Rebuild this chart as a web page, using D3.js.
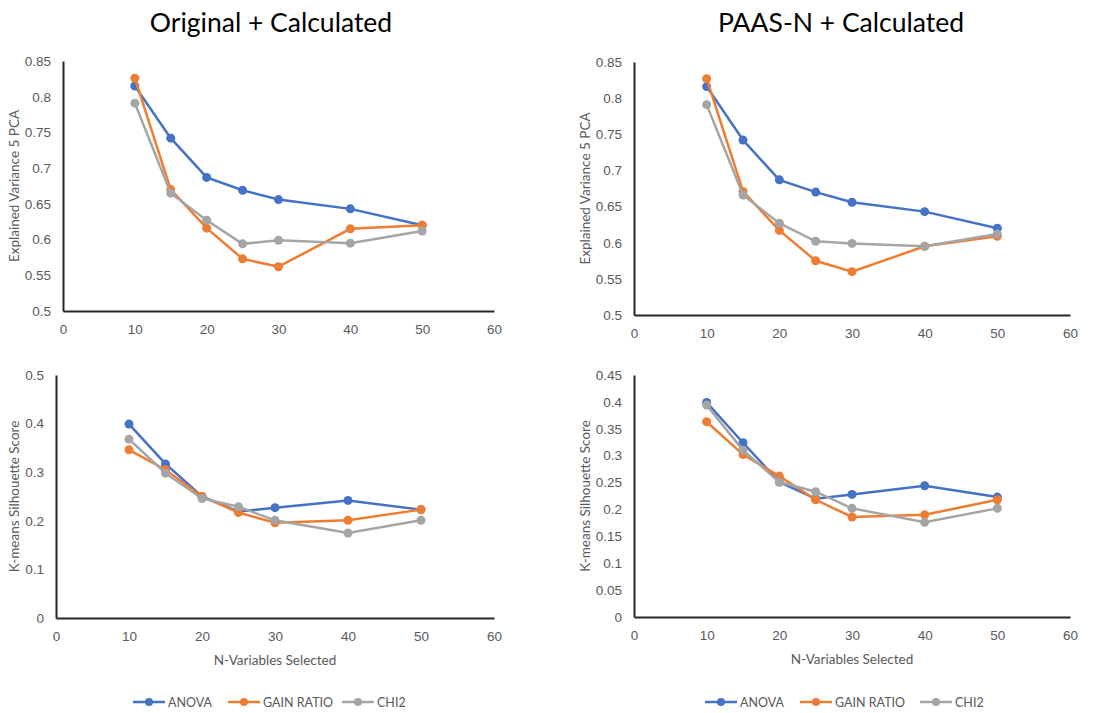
<!DOCTYPE html>
<html>
<head>
<meta charset="utf-8">
<script src="https://cdn.jsdelivr.net/npm/d3@7"></script>
<style>
  body { margin: 0; background: #fff; }
  svg { display: block; font-family: Lato, "Open Sans", sans-serif; }
</style>
</head>
<body>
<svg id="chart" width="1114" height="713"></svg>
<script>
// x values (number of variables selected)
const nVars = [10, 15, 20, 25, 30, 40, 50];
const seriesNames = ["ANOVA", "GAIN RATIO", "CHI2"];
const colors = ["#4472C4", "#ED7D31", "#A5A5A5"];

// Original + Calculated: explained variance
const origVarAnova = [0.815, 0.742, 0.687, 0.669, 0.656, 0.643, 0.620];
const origVarGain  = [0.826, 0.670, 0.616, 0.573, 0.562, 0.615, 0.620];
const origVarChi2  = [0.791, 0.665, 0.627, 0.594, 0.599, 0.595, 0.612];

// PAAS-N + Calculated: explained variance
const paasVarAnova = [0.816, 0.742, 0.687, 0.670, 0.656, 0.643, 0.620];
const paasVarGain  = [0.827, 0.671, 0.617, 0.575, 0.560, 0.595, 0.609];
const paasVarChi2  = [0.791, 0.666, 0.627, 0.602, 0.599, 0.595, 0.612];

// Original + Calculated: silhouette
const origSilAnova = [0.399, 0.317, 0.250, 0.219, 0.227, 0.242, 0.223];
const origSilGain  = [0.346, 0.305, 0.250, 0.217, 0.196, 0.201, 0.223];
const origSilChi2  = [0.368, 0.298, 0.246, 0.229, 0.201, 0.175, 0.201];

// PAAS-N + Calculated: silhouette
const paasSilAnova = [0.399, 0.324, 0.251, 0.220, 0.228, 0.244, 0.223];
const paasSilGain  = [0.363, 0.302, 0.262, 0.218, 0.186, 0.190, 0.218];
const paasSilChi2  = [0.394, 0.310, 0.251, 0.233, 0.202, 0.176, 0.202];

// tick labels
const xTicks = [0, 10, 20, 30, 40, 50, 60];
const varTicks = [0.5, 0.55, 0.6, 0.65, 0.7, 0.75, 0.8, 0.85];
const silTicksOrig = [0, 0.1, 0.2, 0.3, 0.4, 0.5];
const silTicksPaas = [0, 0.05, 0.1, 0.15, 0.2, 0.25, 0.3, 0.35, 0.4, 0.45];

const svg = d3.select("#chart");
const textColor = "#595959";

function drawPanel(box, yTicks, series, yTitle, xTitle) {
  const x = d3.scaleLinear().domain([0, 60]).range([box.x0, box.x1]);
  const y = d3.scaleLinear().domain([yTicks[0], yTicks[yTicks.length - 1]]).range([box.y1, box.y0]);
  const g = svg.append("g");

  // y axis
  const yAxis = g.append("g")
    .attr("transform", `translate(${box.x0},0)`)
    .call(d3.axisLeft(y).tickValues(yTicks).tickSize(0).tickPadding(12)
      .tickFormat(d => String(+d.toFixed(2))));
  yAxis.select(".domain").attr("stroke", "#262626").attr("stroke-width", 2);
  yAxis.selectAll("text").attr("fill", textColor).style("font-size", "13.5px");

  // x axis
  const xAxis = g.append("g")
    .attr("transform", `translate(0,${box.y1})`)
    .call(d3.axisBottom(x).tickValues(xTicks).tickSize(0).tickPadding(13));
  xAxis.select(".domain").attr("stroke", "#262626").attr("stroke-width", 2);
  xAxis.selectAll("text").attr("fill", textColor).style("font-size", "13.5px");

  // axis titles
  g.append("text")
    .attr("transform", `translate(${box.ytx},${(box.y0 + box.y1) / 2}) rotate(-90)`)
    .attr("text-anchor", "middle")
    .attr("dominant-baseline", "central")
    .attr("fill", textColor)
    .style("font-size", "13.5px")
    .text(yTitle);
  if (xTitle) {
    g.append("text")
      .attr("x", (box.x0 + box.x1) / 2)
      .attr("y", box.y1 + 47)
      .attr("text-anchor", "middle")
      .attr("fill", textColor)
      .style("font-size", "13.5px")
      .text(xTitle);
  }

  const line = d3.line().x((d, i) => x(nVars[i])).y(d => y(d));
  series.forEach((vals, s) => {
    g.append("path")
      .datum(vals)
      .attr("d", line)
      .attr("fill", "none")
      .attr("stroke", colors[s])
      .attr("stroke-width", 2.5);
    g.selectAll(null)
      .data(vals)
      .enter()
      .append("circle")
      .attr("cx", (d, i) => x(nVars[i]))
      .attr("cy", d => y(d))
      .attr("r", 4.5)
      .attr("fill", colors[s]);
  });
}

function drawLegend(items) {
  const g = svg.append("g");
  seriesNames.forEach((name, i) => {
    const it = items[i];
    g.append("line")
      .attr("x1", it.x).attr("x2", it.x + 32)
      .attr("y1", 702).attr("y2", 702)
      .attr("stroke", colors[i]).attr("stroke-width", 2.5);
    g.append("circle")
      .attr("cx", it.x + 16).attr("cy", 702).attr("r", 4)
      .attr("fill", colors[i]);
    g.append("text")
      .attr("x", it.x + 35).attr("y", 702)
      .attr("dominant-baseline", "central")
      .attr("fill", textColor)
      .style("font-size", "12.5px")
      .text(name);
  });
}

// titles
svg.append("text").attr("x", 271).attr("y", 22)
  .attr("text-anchor", "middle").attr("dominant-baseline", "central")
  .attr("fill", "#000").style("font-size", "26.5px").text("Original + Calculated");
svg.append("text").attr("x", 841).attr("y", 22)
  .attr("text-anchor", "middle").attr("dominant-baseline", "central")
  .attr("fill", "#000").style("font-size", "26.5px").text("PAAS-N + Calculated");

drawPanel({ x0: 63, x1: 494, y0: 61, y1: 311, ytx: 14 }, varTicks,
  [origVarAnova, origVarGain, origVarChi2], "Explained Variance 5 PCA");
drawPanel({ x0: 634, x1: 1070, y0: 62, y1: 315, ytx: 585 }, varTicks,
  [paasVarAnova, paasVarGain, paasVarChi2], "Explained Variance 5 PCA");
drawPanel({ x0: 56, x1: 494, y0: 375, y1: 618, ytx: 14 }, silTicksOrig,
  [origSilAnova, origSilGain, origSilChi2], "K-means Silhouette Score", "N-Variables Selected");
drawPanel({ x0: 634, x1: 1070, y0: 375, y1: 617, ytx: 585 }, silTicksPaas,
  [paasSilAnova, paasSilGain, paasSilChi2], "K-means Silhouette Score", "N-Variables Selected");

drawLegend([{ x: 133 }, { x: 228 }, { x: 342 }]);
drawLegend([{ x: 705 }, { x: 800 }, { x: 920 }]);
</script>
</body>
</html>
